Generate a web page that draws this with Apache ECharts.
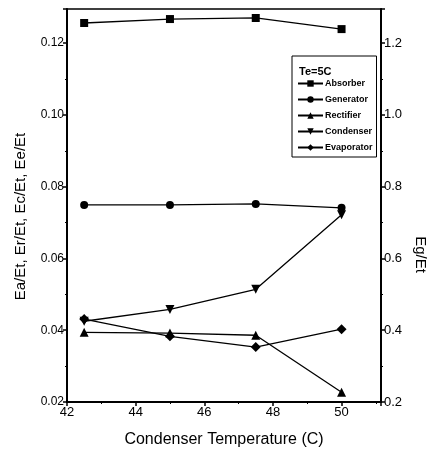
<!DOCTYPE html>
<html>
<head>
<meta charset="utf-8">
<script src="https://cdn.jsdelivr.net/npm/echarts@6/dist/echarts.min.js"></script>
<style>html,body{margin:0;padding:0;background:#fff;}#c{width:436px;height:453px;}</style>
</head>
<body>
<div id="c"></div>
<script>
var temps = [42.5, 45, 47.5, 50];
var absorber = [0.1256, 0.1267, 0.1270, 0.1239];
var generator = [0.749, 0.749, 0.752, 0.741];
var rectifier = [0.0394, 0.0392, 0.0386, 0.0227];
var condenser = [0.0425, 0.0458, 0.0514, 0.0722];
var evaporator = [0.0431, 0.0383, 0.0353, 0.0403];

function pairs(v){ return temps.map(function(t,i){ return [t, v[i]]; }); }

var font = 'Liberation Sans, Arial, sans-serif';
var chart = echarts.init(document.getElementById('c'));
function ser(name, data, sym, size, yIdx, rot){
  return {
    name: name, type: 'line', data: pairs(data), yAxisIndex: yIdx,
    symbol: sym, symbolSize: size, symbolRotate: rot || 0,
    lineStyle: {color: '#000', width: 1.3},
    itemStyle: {color: '#000'},
    animation: false
  };
}
chart.setOption({
  animation: false,
  grid: {left: 67, right: 51, top: 9, bottom: 51, show: true, borderColor: '#000', borderWidth: 1.5},
  xAxis: {
    type: 'value', min: 42, max: 51.15, interval: 2,
    axisLine: {lineStyle: {color: '#000', width: 2}},
    axisTick: {show: true, length: 4, lineStyle: {color: '#000', width: 1.5}},
    minorTick: {show: true, splitNumber: 2, length: 2, lineStyle: {color: '#000'}},
    splitLine: {show: false},
    axisLabel: {color: '#000', fontSize: 13, fontFamily: font, margin: 4, showMaxLabel: false},
    name: 'Condenser Temperature (C)', nameLocation: 'middle', nameGap: 30,
    nameTextStyle: {color: '#000', fontSize: 16, fontFamily: font}
  },
  yAxis: [{
    type: 'value', min: 0.02, max: 0.1295, interval: 0.02, position: 'left',
    axisLine: {show: true, lineStyle: {color: '#000', width: 2}},
    axisTick: {show: true, length: 4, lineStyle: {color: '#000', width: 1.5}},
    minorTick: {show: true, splitNumber: 2, length: 2, lineStyle: {color: '#000'}},
    splitLine: {show: false},
    axisLabel: {color: '#000', fontSize: 12, fontFamily: font, margin: 3, showMaxLabel: false,
      formatter: function(v){ return v.toFixed(2); }},
    name: 'Ea/Et, Er/Et, Ec/Et, Ee/Et', nameLocation: 'middle', nameGap: 39,
    nameTextStyle: {color: '#000', fontSize: 15, fontFamily: font, padding: [0, 22, 0, 0]}
  }, {
    type: 'value', min: 0.2, max: 1.295, interval: 0.2, position: 'right',
    axisLine: {show: true, lineStyle: {color: '#000', width: 2}},
    axisTick: {show: true, length: 4, lineStyle: {color: '#000', width: 1.5}},
    minorTick: {show: true, splitNumber: 2, length: 2, lineStyle: {color: '#000'}},
    splitLine: {show: false},
    axisLabel: {color: '#000', fontSize: 13, fontFamily: font, margin: 3, showMaxLabel: false,
      formatter: function(v){ return v.toFixed(1); }},
    name: 'Eg/Et', nameLocation: 'middle', nameGap: 30, nameRotate: -90,
    nameTextStyle: {color: '#000', fontSize: 15, fontFamily: font, padding: [0, 0, 0, 98]}
  }],
  legend: {
    orient: 'vertical', left: 292, top: 56,
    padding: [23, 4, 5, 5], itemGap: 7, itemWidth: 25, itemHeight: 8,
    borderColor: '#000', borderWidth: 1,
    textStyle: {color: '#000', fontSize: 9, fontFamily: font, fontWeight: 'bold', padding: [0, 0, 0, -3]},
    data: ['Absorber', 'Generator', 'Rectifier', 'Condenser', 'Evaporator']
  },
  graphic: [{
    type: 'text', left: 299, top: 66,
    style: {text: 'Te=5C', fill: '#000', fontSize: 11, fontWeight: 'bold', fontFamily: font}
  }],
  series: [
    ser('Absorber', absorber, 'rect', 8, 0),
    ser('Generator', generator, 'circle', 8, 1),
    ser('Rectifier', rectifier, 'triangle', 9, 0),
    ser('Condenser', condenser, 'triangle', 9, 0, 180),
    ser('Evaporator', evaporator, 'diamond', 10, 0)
  ]
});
</script>
</body>
</html>
